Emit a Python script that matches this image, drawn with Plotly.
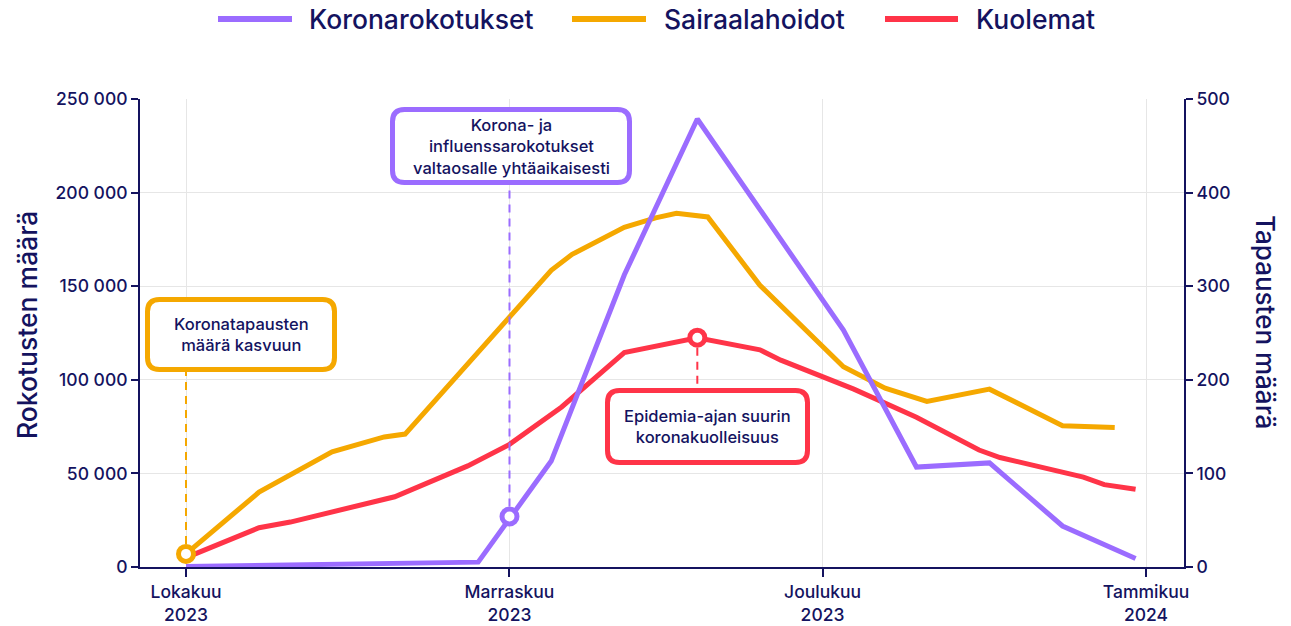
import pandas as pd
import plotly.graph_objects as go

# ---------------- data ----------------
vacc_dates = ["2023-10-01", "2023-10-29", "2023-11-05", "2023-11-12", "2023-11-19",
              "2023-12-03", "2023-12-10", "2023-12-17", "2023-12-24", "2023-12-31"]
vacc_values = [300, 2600, 56600, 156000, 239300, 126600, 53400, 55600, 21900, 4500]

hosp_dates = ["2023-10-01", "2023-10-08", "2023-10-15", "2023-10-20", "2023-10-22",
              "2023-11-05", "2023-11-07", "2023-11-12", "2023-11-15", "2023-11-17",
              "2023-11-20", "2023-11-25", "2023-12-03", "2023-12-07", "2023-12-11",
              "2023-12-17", "2023-12-24", "2023-12-29"]
hosp_values = [14, 80, 123, 139, 142, 317, 334, 363, 373, 378, 374, 301, 214, 191, 177,
               190, 151, 149]

death_dates = ["2023-10-01", "2023-10-08", "2023-10-11", "2023-10-21", "2023-10-28",
               "2023-11-01", "2023-11-06", "2023-11-12", "2023-11-19", "2023-11-25",
               "2023-11-27", "2023-12-01", "2023-12-04", "2023-12-10", "2023-12-13",
               "2023-12-16", "2023-12-18", "2023-12-21", "2023-12-24", "2023-12-26",
               "2023-12-28", "2023-12-31"]
death_values = [10, 42, 48, 75, 108, 131, 171, 229, 245, 232, 221, 203, 190, 160, 143,
                125, 117, 109, 100, 96, 88, 83]

series_names = ["Koronarokotukset", "Sairaalahoidot", "Kuolemat"]

# highlighted points (date, value)
hosp_marker = ("2023-10-01", 14)
vacc_marker = ("2023-11-01", 27000)
death_marker = ("2023-11-19", 245)

tick_dates = ["2023-10-01", "2023-11-01", "2023-12-01", "2024-01-01"]
tick_text = ["Lokakuu<br>2023", "Marraskuu<br>2023", "Joulukuu<br>2023", "Tammikuu<br>2024"]

left_ticks = [0, 50000, 100000, 150000, 200000, 250000]
right_ticks = [0, 100, 200, 300, 400, 500]
LEFT_MAX, RIGHT_MAX = 250000, 500

note_hosp = "Koronatapausten<br>määrä kasvuun"
note_vacc = "Korona- ja<br>influenssarokotukset<br>valtaosalle yhtäaikaisesti"
note_death = "Epidemia-ajan suurin<br>koronakuolleisuus"

# ---------------- style ----------------
NAVY = "#14135f"
PURPLE = "#9b6cff"
ORANGE = "#f5a800"
RED = "#ff3448"
GRID = "#e6e6e6"
FONT = "Inter"

W, H = 1291, 626
L, R, T, B = 140, 1184, 99, 567
PW, PH = R - L, B - T


def px(p):
    return (p - L) / PW


def py(p):
    return (B - p) / PH


def rrect(x0, y0, x1, y1, r):
    X, Y = px, py
    return (f"M{X(x0 + r)},{Y(y0)} L{X(x1 - r)},{Y(y0)} Q{X(x1)},{Y(y0)} {X(x1)},{Y(y0 + r)} "
            f"L{X(x1)},{Y(y1 - r)} Q{X(x1)},{Y(y1)} {X(x1 - r)},{Y(y1)} "
            f"L{X(x0 + r)},{Y(y1)} Q{X(x0)},{Y(y1)} {X(x0)},{Y(y1 - r)} "
            f"L{X(x0)},{Y(y0 + r)} Q{X(x0)},{Y(y0)} {X(x0 + r)},{Y(y0)} Z")


oct1 = pd.Timestamp("2023-10-01")
px_per_day = 10.435
x_start = oct1 + pd.Timedelta(days=(L - 186) / px_per_day)
x_end = oct1 + pd.Timedelta(days=(R - 186) / px_per_day)

MSIZE, MLINE = 15, 5
MR = (MSIZE + MLINE) / 2 / PH   # marker outer radius in paper units

fig = go.Figure()

fig.add_trace(go.Scatter(x=hosp_dates, y=hosp_values, mode="lines", name=series_names[1],
                         line=dict(color=ORANGE, width=5), yaxis="y", showlegend=False))
fig.add_trace(go.Scatter(x=death_dates, y=death_values, mode="lines", name=series_names[2],
                         line=dict(color=RED, width=5), yaxis="y", showlegend=False))
fig.add_trace(go.Scatter(x=[hosp_marker[0]], y=[hosp_marker[1]], mode="markers",
                         marker=dict(size=MSIZE, color="white", line=dict(color=ORANGE, width=MLINE)),
                         yaxis="y", showlegend=False, hoverinfo="skip"))
fig.add_trace(go.Scatter(x=[death_marker[0]], y=[death_marker[1]], mode="markers",
                         marker=dict(size=MSIZE, color="white", line=dict(color=RED, width=MLINE)),
                         yaxis="y", showlegend=False, hoverinfo="skip"))
fig.add_trace(go.Scatter(x=vacc_dates, y=vacc_values, mode="lines", name=series_names[0],
                         line=dict(color=PURPLE, width=5), yaxis="y2", showlegend=False))
fig.add_trace(go.Scatter(x=[vacc_marker[0]], y=[vacc_marker[1]], mode="markers",
                         marker=dict(size=MSIZE, color="white", line=dict(color=PURPLE, width=MLINE)),
                         yaxis="y2", showlegend=False, hoverinfo="skip"))

shapes = []
annotations = []

# dashed connectors (from marker edge to note box)
shapes.append(dict(type="line", xref="x", yref="paper", x0=hosp_marker[0], x1=hosp_marker[0],
                   y0=hosp_marker[1] / RIGHT_MAX + MR, y1=py(372), layer="above",
                   line=dict(color=ORANGE, width=2, dash="8px,6px")))
shapes.append(dict(type="line", xref="x", yref="paper", x0=vacc_marker[0], x1=vacc_marker[0],
                   y0=vacc_marker[1] / LEFT_MAX + MR, y1=py(185), layer="above",
                   line=dict(color=PURPLE, width=2, dash="8px,6px")))
shapes.append(dict(type="line", xref="x", yref="paper", x0=death_marker[0], x1=death_marker[0],
                   y0=death_marker[1] / RIGHT_MAX - MR, y1=py(389), layer="above",
                   line=dict(color=RED, width=2, dash="8px,6px")))

# rounded note boxes
boxes = [
    (147.5, 299.5, 334.5, 369.5, ORANGE, note_hosp),
    (392.5, 109.5, 629.5, 182.5, PURPLE, note_vacc),
    (607.5, 390.5, 807.5, 462.5, RED, note_death),
]
for x0, y0, x1, y1, col, txt in boxes:
    shapes.append(dict(type="path", xref="paper", yref="paper", path=rrect(x0, y0, x1, y1, 12),
                       fillcolor="white", line=dict(color=col, width=5), layer="above"))
    annotations.append(dict(xref="paper", yref="paper", x=px((x0 + x1) / 2), y=py((y0 + y1) / 2),
                            text=txt, showarrow=False, xanchor="center", yanchor="middle",
                            align="center",
                            font=dict(family=FONT, size=16.5, color=NAVY, weight=500)))

# manual legend
legend_items = [(218, 292, 307, PURPLE, series_names[0]),
                (572, 646, 662, ORANGE, series_names[1]),
                (885, 958, 974, RED, series_names[2])]
for lx0, lx1, tx, col, name in legend_items:
    shapes.append(dict(type="line", xref="paper", yref="paper", x0=px(lx0), x1=px(lx1),
                       y0=py(19), y1=py(19), line=dict(color=col, width=6)))
    annotations.append(dict(xref="paper", yref="paper", x=px(tx), y=py(19), text=name,
                            showarrow=False, xanchor="left", yanchor="middle",
                            font=dict(family=FONT, size=26.5, color=NAVY, weight=500)))

# axis titles
annotations.append(dict(xref="paper", yref="paper", x=px(27), y=py(325), text="Rokotusten määrä",
                        showarrow=False, textangle=-90, xanchor="center", yanchor="middle",
                        font=dict(family=FONT, size=26.5, color=NAVY, weight=500)))
annotations.append(dict(xref="paper", yref="paper", x=px(1266), y=py(322), text="Tapausten määrä",
                        showarrow=False, textangle=90, xanchor="center", yanchor="middle",
                        font=dict(family=FONT, size=26, color=NAVY, weight=500)))

axis_common = dict(showline=True, linecolor=NAVY, linewidth=2, ticks="outside",
                   tickcolor=NAVY, tickwidth=2, zeroline=False, automargin=False,
                   tickfont=dict(family=FONT, size=17.5, color=NAVY, weight=500))

fig.update_layout(
    width=W, height=H,
    margin=dict(l=L, r=W - R, t=T, b=H - B, pad=0, autoexpand=False),
    paper_bgcolor="white", plot_bgcolor="white",
    separators=", ",
    font=dict(family=FONT, color=NAVY),
    xaxis=dict(type="date", range=[x_start, x_end], tickmode="array", tickvals=tick_dates,
               ticktext=tick_text, showgrid=True, gridcolor=GRID, gridwidth=1,
               showline=True, linecolor=NAVY, linewidth=2, ticks="outside", ticklen=8,
               tickcolor=NAVY, tickwidth=2, zeroline=False, automargin=False,
               tickfont=dict(family=FONT, size=17.5, color=NAVY, weight=500)),
    yaxis=dict(side="right", range=[0, RIGHT_MAX], tickmode="array", tickvals=right_ticks,
               showgrid=True, gridcolor=GRID, gridwidth=1, ticklen=7, **axis_common),
    yaxis2=dict(side="left", overlaying="y", range=[0, LEFT_MAX], tickmode="array",
                tickvals=left_ticks, tickformat=",d", showgrid=False, ticklen=7, **axis_common),
    shapes=shapes,
    annotations=annotations,
    showlegend=False,
)

fig.write_html("out.html", config={"displayModeBar": False},
               post_script="document.body.style.margin='0px';document.body.style.overflow='hidden';")
